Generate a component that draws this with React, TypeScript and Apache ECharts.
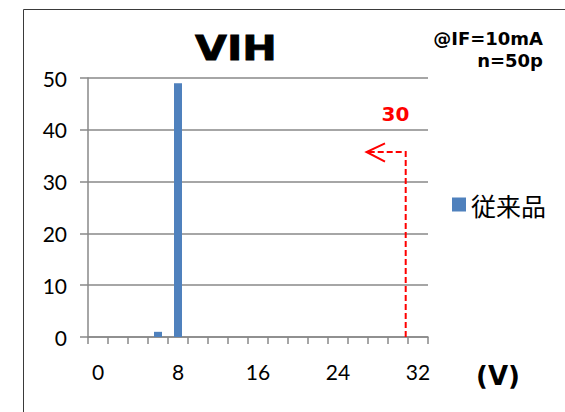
import React, { useEffect, useRef } from "react";
import * as echarts from "echarts";

const categories = ["0", "2", "4", "6", "8", "10", "12", "14", "16", "18", "20", "22", "24", "26", "28", "30", "32"];
const seriesName = "従来品";
const seriesValues = [0, 0, 0, 1, 49, 0, 0, 0, 0, 0, 0, 0, 0, 0, 0, 0, 0];
const yTicks = { min: 0, max: 50, interval: 10 };
const titleText = "VIH";
const noteLines = ["@IF=10mA", "n=50p"];
const unitText = "(V)";
const markerText = "30";

export default function App() {
  const ref = useRef<HTMLDivElement>(null);
  useEffect(() => {
    if (!ref.current) return;
    const chart = echarts.init(ref.current, null, { renderer: "svg" });
    const axisGrey = "#898989";
    const red = "#ff0000";
    chart.setOption({
      animation: false,
      backgroundColor: "#ffffff",
      grid: { left: 88, right: 137, top: 78, bottom: 75, containLabel: false },
      legend: {
        show: true,
        data: [seriesName],
        left: 447,
        top: 187,
        orient: "vertical",
        icon: "rect",
        itemWidth: 14,
        itemHeight: 14,
        textStyle: { fontSize: 25, fontFamily: "Noto Sans CJK JP", color: "#000" },
      },
      xAxis: {
        type: "category",
        data: categories,
        boundaryGap: true,
        axisLine: { show: true, lineStyle: { color: axisGrey, width: 1.5 } },
        axisTick: { show: true, interval: 0, length: 7, lineStyle: { color: axisGrey, width: 1.5 } },
        axisLabel: { interval: 3, fontSize: 21, fontFamily: "Lato", color: "#000", margin: 24 },
        splitLine: { show: false },
      },
      yAxis: {
        type: "value",
        min: yTicks.min,
        max: yTicks.max,
        interval: yTicks.interval,
        axisLine: { show: true, lineStyle: { color: axisGrey, width: 1.5 } },
        axisTick: { show: true, length: 8, inside: false, lineStyle: { color: axisGrey, width: 1.5 } },
        axisLabel: { fontSize: 21, fontFamily: "Lato", color: "#000", margin: 21 },
        splitLine: { show: true, lineStyle: { color: axisGrey, width: 1.5 } },
      },
      series: [
        {
          name: seriesName,
          type: "bar",
          data: seriesValues,
          barWidth: 8,
          itemStyle: { color: "#4f81bd" },
        },
      ],
      graphic: [
        {
          type: "rect",
          shape: { x: 23.5, y: 9.5, width: 700, height: 600 },
          style: { fill: "none", stroke: "#3a3a3a", lineWidth: 1 },
          silent: true,
          z: 0,
        },
        {
          type: "text",
          x: 236,
          y: 49,
          style: {
            text: titleText,
            align: "center",
            verticalAlign: "middle",
            fontSize: 33,
            fontWeight: "bold",
            fontFamily: "DejaVu Sans",
            fill: "#000",
            stroke: "#000",
            lineWidth: 0.8,
          },
          scaleX: 1.25,
        },
        {
          type: "text",
          x: 543,
          y: 38,
          style: {
            text: noteLines[0],
            align: "right",
            verticalAlign: "middle",
            fontSize: 18,
            fontWeight: "bold",
            fontFamily: "DejaVu Sans",
            fill: "#000",
          },
        },
        {
          type: "text",
          x: 543,
          y: 60,
          style: {
            text: noteLines[1],
            align: "right",
            verticalAlign: "middle",
            fontSize: 18,
            fontWeight: "bold",
            fontFamily: "DejaVu Sans",
            fill: "#000",
          },
        },
        {
          type: "text",
          x: 395.5,
          y: 113.5,
          style: {
            text: markerText,
            align: "center",
            verticalAlign: "middle",
            fontSize: 20,
            fontWeight: "bold",
            fontFamily: "DejaVu Sans",
            fill: red,
          },
        },
        {
          type: "text",
          x: 498,
          y: 376,
          style: {
            text: unitText,
            align: "center",
            verticalAlign: "middle",
            fontSize: 26,
            fontWeight: "bold",
            fontFamily: "DejaVu Sans",
            fill: "#000",
          },
        },
        {
          type: "polyline",
          shape: { points: [[405.7, 337], [405.7, 152], [368, 152]] },
          style: { stroke: red, lineWidth: 2, lineDash: [6, 3], fill: "none" },
          z: 10,
        },
        {
          type: "polyline",
          shape: { points: [[385, 143.3], [366.5, 152], [385, 161.7]] },
          style: { stroke: red, lineWidth: 2, fill: "none" },
          z: 10,
        },
      ],
    });
    return () => chart.dispose();
  }, []);
  return (
    <div
      ref={ref}
      style={{ position: "fixed", left: 0, top: 0, width: 565, height: 412 }}
    />
  );
}
